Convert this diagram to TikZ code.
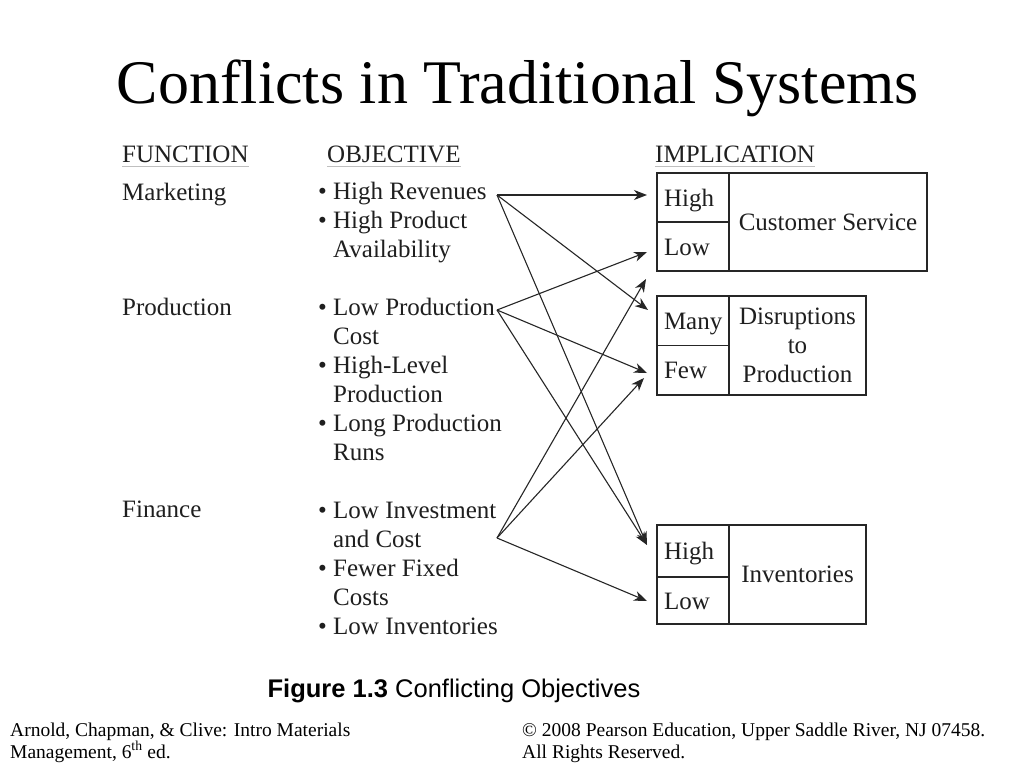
\documentclass[tikz,border=0pt]{standalone}
\usepackage{fontspec}
\setmainfont{Liberation Serif}
\setsansfont{Liberation Sans}
\usepackage{xcolor}
\usetikzlibrary{positioning, arrows.meta}

\newcommand{\figfont}{\rmfamily\fontsize{25bp}{29bp}\selectfont}

\begin{document}
\begin{tikzpicture}[
    x=1bp, y=-1bp,
    titlenode/.style = {
        anchor=base, inner sep=0pt, font=\rmfamily\fontsize{62bp}{70bp}\selectfont
    },
    hdr/.style = {
        anchor=base west, inner sep=0pt, font=\figfont, text=black!88
    },
    func/.style = {
        anchor=base west, inner sep=0pt, font=\figfont, text=black!88
    },
    obj/.style = {
        anchor=base west, inner sep=0pt, align=left, font=\figfont, text=black!88
    },
    cell/.style = {
        draw=black!85, line width=1.3bp, outer sep=0pt, anchor=north west,
        minimum width=72bp, inner xsep=7bp, inner ysep=0pt, text width=58bp,
        align=left, text height=17bp, text depth=0bp, font=\figfont, text=black!88
    },
    bigcell/.style = {
        draw=black!85, line width=1.3bp, outer sep=0pt, anchor=north west,
        inner sep=0pt, align=center, font=\figfont, text=black!88
    },
    hrule/.style = {
        draw=black!25, line width=0.8bp
    },
    arrow/.style = {
        -{Stealth[length=13bp, width=10bp, inset=4bp]}, line width=1.1bp, draw=black!85
    },
    footnode/.style = {
        anchor=base west, inner sep=0pt, align=left,
        font=\rmfamily\fontsize{19.5bp}{22bp}\selectfont
    }
]
\fill[white] (0,0) rectangle (1024,768);
\useasboundingbox (0,0) rectangle (1024,768);

% ── Title ──
\node[titlenode] (title) at (518,103) {Conflicts in Traditional Systems};

% ── Column headings ──
\node[hdr] (hfun) at (122,162) {FUNCTION};
\node[hdr] (hobj) at (327,162) {OBJECTIVE};
\node[hdr] (himp) at (655,162) {IMPLICATION};
\draw[hrule] ([yshift=-4bp]hfun.base west) -- ([yshift=-4bp]hfun.base east);
\draw[hrule] ([yshift=-4bp]hobj.base west) -- ([yshift=-4bp]hobj.base east);
\draw[hrule] ([yshift=-4bp]himp.base west) -- ([yshift=-4bp]himp.base east);

% ── Functions ──
\node[func] (mkt)  at (122,200) {Marketing};
\node[func] (prod) at (122,315) {Production};
\node[func] (fin)  at (122,517) {Finance};

% ── Objectives (placed by the baseline of their last line) ──
\node[obj] (mktobj)  at (333,257) {\llap{\textbullet\ }High Revenues\\\llap{\textbullet\ }High Product\\Availability};
\node[obj] (prodobj) at (333,460) {\llap{\textbullet\ }Low Production\\Cost\\\llap{\textbullet\ }High-Level\\Production\\\llap{\textbullet\ }Long Production\\Runs};
\node[obj] (finobj)  at (333,634) {\llap{\textbullet\ }Low Investment\\and Cost\\\llap{\textbullet\ }Fewer Fixed\\Costs\\\llap{\textbullet\ }Low Inventories};

% ── Implications ──
\node[cell, minimum height=49bp] (cshigh) at (657,173) {High};
\node[cell, minimum height=49bp, below=0pt of cshigh, anchor=north] (cslow) {Low};
\node[bigcell, minimum width=198bp, minimum height=98bp] (cs) at (cshigh.north east) {Customer Service};

\node[cell, minimum height=49.5bp] (dismany) at (657,296) {Many};
\node[cell, minimum height=49.5bp, below=0pt of dismany, anchor=north] (disfew) {Few};
\node[bigcell, minimum width=137bp, minimum height=99bp] (dis) at (dismany.north east) {Disruptions\\to\\Production};

\node[cell, minimum height=52bp] (invhigh) at (657,525) {High};
\node[cell, minimum height=47bp, below=0pt of invhigh, anchor=north] (invlow) {Low};
\node[bigcell, minimum width=137bp, minimum height=99bp] (inv) at (invhigh.north east) {Inventories};

% ── Arrow ends ──
\coordinate (mktout)  at (497,195);
\coordinate (prodout) at (497,310);
\coordinate (finout)  at (497,538);
\coordinate (tcshigh)  at (647,195);
\coordinate (tcslow)   at (647,252);
\coordinate (tcslow2)  at (646,279);
\coordinate (tmany)    at (648,310);
\coordinate (tfew)     at (647,373);
\coordinate (tfew2)    at (644,378);
\coordinate (tinvhigh) at (647,545);
\coordinate (tinvlow)  at (647,601);

% ── Arrows: objectives → implications ──
\draw[arrow] (mktout) -- (tcshigh);
\draw[arrow] (mktout) -- (tmany);
\draw[arrow] (mktout) -- (tinvhigh);
\draw[arrow] (prodout) -- (tcslow);
\draw[arrow] (prodout) -- (tfew);
\draw[arrow] (prodout) -- (tinvhigh);
\draw[arrow] (finout) -- (tcslow2);
\draw[arrow] (finout) -- (tfew2);
\draw[arrow] (finout) -- (tinvlow);

% ── Caption and footer ──
\node[anchor=base, inner sep=0pt, font=\sffamily\fontsize{25.5bp}{28bp}\selectfont] (caption) at (454,697) {\textbf{Figure 1.3} Conflicting Objectives};
\node[footnode] (footl) at (10,758) {Arnold, Chapman, \& Clive: Intro Materials\\Management, 6\textsuperscript{th} ed.};
\node[footnode] (footr) at (522,758) {\textcopyright{} 2008 Pearson Education, Upper Saddle River, NJ 07458.\\All Rights Reserved.};

\end{tikzpicture}
\end{document}
